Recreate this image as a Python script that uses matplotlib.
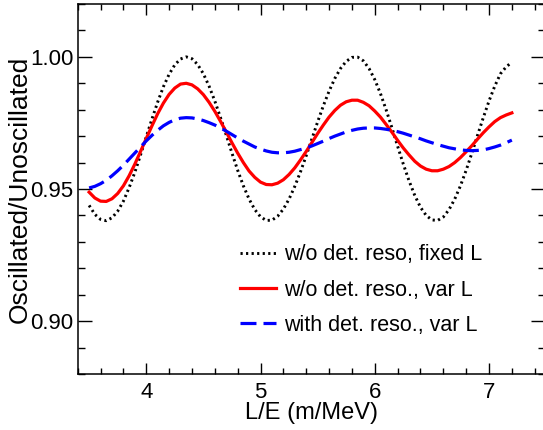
import matplotlib
matplotlib.use("Agg")
import matplotlib.pyplot as plt
from matplotlib.ticker import MultipleLocator

plt.rcParams['font.family'] = ['Liberation Sans', 'DejaVu Sans']

# L/E sample points (m/MeV)
le = [3.50, 3.55, 3.60, 3.65, 3.70, 3.75, 3.80, 3.85, 3.90, 3.95,
      4.00, 4.05, 4.10, 4.15, 4.20, 4.25, 4.30, 4.35, 4.40, 4.45,
      4.50, 4.55, 4.60, 4.65, 4.70, 4.75, 4.80, 4.85, 4.90, 4.95,
      5.00, 5.05, 5.10, 5.15, 5.20, 5.25, 5.30, 5.35, 5.40, 5.45,
      5.50, 5.55, 5.60, 5.65, 5.70, 5.75, 5.80, 5.85, 5.90, 5.95,
      6.00, 6.05, 6.10, 6.15, 6.20, 6.25, 6.30, 6.35, 6.40, 6.45,
      6.50, 6.55, 6.60, 6.65, 6.70, 6.75, 6.80, 6.85, 6.90, 6.95,
      7.00, 7.05, 7.10, 7.15, 7.20]

fixed_L = [0.9438, 0.9404, 0.9385, 0.9380, 0.9391, 0.9416, 0.9454, 0.9505, 0.9563, 0.9629,
           0.9697, 0.9765, 0.9829, 0.9887, 0.9934, 0.9970, 0.9992, 1.0000, 0.9993, 0.9971,
           0.9936, 0.9889, 0.9833, 0.9770, 0.9704, 0.9636, 0.9571, 0.9512, 0.9462, 0.9422,
           0.9395, 0.9381, 0.9382, 0.9397, 0.9424, 0.9462, 0.9510, 0.9565, 0.9626, 0.9690,
           0.9754, 0.9815, 0.9870, 0.9918, 0.9956, 0.9983, 0.9998, 0.9999, 0.9985, 0.9956,
           0.9914, 0.9861, 0.9799, 0.9732, 0.9662, 0.9594, 0.9531, 0.9476, 0.9431, 0.9400,
           0.9383, 0.9381, 0.9394, 0.9422, 0.9462, 0.9512, 0.9571, 0.9636, 0.9704, 0.9770,
           0.9833, 0.9889, 0.9936, 0.9962, 0.9980]

var_L = [0.9488, 0.9466, 0.9454, 0.9453, 0.9463, 0.9483, 0.9512, 0.9550, 0.9594, 0.9642,
         0.9691, 0.9739, 0.9785, 0.9825, 0.9858, 0.9882, 0.9897, 0.9900, 0.9894, 0.9879,
         0.9857, 0.9828, 0.9794, 0.9756, 0.9716, 0.9675, 0.9636, 0.9600, 0.9568, 0.9544,
         0.9526, 0.9517, 0.9516, 0.9522, 0.9535, 0.9555, 0.9580, 0.9610, 0.9642, 0.9676,
         0.9710, 0.9742, 0.9772, 0.9797, 0.9817, 0.9830, 0.9836, 0.9836, 0.9828, 0.9815,
         0.9795, 0.9772, 0.9744, 0.9715, 0.9684, 0.9655, 0.9629, 0.9605, 0.9587, 0.9575,
         0.9569, 0.9569, 0.9575, 0.9585, 0.9600, 0.9619, 0.9641, 0.9664, 0.9689, 0.9713,
         0.9735, 0.9755, 0.9770, 0.9780, 0.9788]

det_reso = [0.9504, 0.9510, 0.9520, 0.9533, 0.9550, 0.9569, 0.9590, 0.9613, 0.9636, 0.9659,
            0.9682, 0.9703, 0.9722, 0.9739, 0.9752, 0.9762, 0.9768, 0.9770, 0.9769, 0.9765,
            0.9759, 0.9751, 0.9742, 0.9731, 0.9719, 0.9706, 0.9693, 0.9681, 0.9670, 0.9659,
            0.9651, 0.9644, 0.9639, 0.9637, 0.9637, 0.9639, 0.9643, 0.9649, 0.9655, 0.9663,
            0.9672, 0.9681, 0.9691, 0.9700, 0.9708, 0.9716, 0.9722, 0.9727, 0.9730, 0.9731,
            0.9731, 0.9729, 0.9726, 0.9722, 0.9717, 0.9711, 0.9704, 0.9697, 0.9690, 0.9682,
            0.9675, 0.9668, 0.9662, 0.9656, 0.9652, 0.9648, 0.9646, 0.9645, 0.9646, 0.9648,
            0.9653, 0.9659, 0.9666, 0.9675, 0.9685]

labels = ["w/o det. reso, fixed L", "w/o det. reso., var L", "with det. reso., var L"]
x_ticks = [4, 5, 6, 7]
y_ticks = [0.90, 0.95, 1.00]
y_ticklabels = ["0.90", "0.95", "1.00"]

fig = plt.figure(figsize=(5.43, 4.30), dpi=100)
ax = fig.add_axes([77.7/543, 1 - 374/430, (545 - 77.7)/543, 370/430])

ax.plot(le, fixed_L, color='black', lw=2.1, linestyle=(0, (0.75, 1.15)), label=labels[0])
ax.plot(le, var_L, color='#ff0000', lw=2.3, label=labels[1])
ax.plot(le, det_reso, color='#0000ff', lw=2.3, linestyle=(0, (5.0, 2.2)), label=labels[2])

ax.set_xlim(3.4, 7.49)
ax.set_ylim(0.88, 1.02)
ax.set_xticks(x_ticks)
ax.set_xticklabels([str(t) for t in x_ticks])
ax.set_yticks(y_ticks)
ax.set_yticklabels(y_ticklabels)
ax.xaxis.set_minor_locator(MultipleLocator(0.2))
ax.yaxis.set_minor_locator(MultipleLocator(0.01))

ax.tick_params(axis='both', which='both', direction='in', top=True, right=True, width=1.0)
ax.tick_params(axis='x', which='major', length=8, pad=6, labelsize=16)
ax.tick_params(axis='x', which='minor', length=4)
ax.tick_params(axis='y', which='major', length=10, pad=3, labelsize=16)
ax.tick_params(axis='y', which='minor', length=5)
for s in ax.spines.values():
    s.set_linewidth(1.1)

ax.set_xlabel("L/E (m/MeV)", fontsize=17)
ax.xaxis.set_label_coords(0.5, -0.075)
ax.set_ylabel("Oscillated/Unoscillated", fontsize=19)
ax.yaxis.set_label_coords(-0.098, 0.5)

ax.legend(loc='upper left', bbox_to_anchor=(0.348, 0.351), frameon=False,
          fontsize=15.5, handlelength=1.67, handletextpad=0.37, labelspacing=0.67,
          borderpad=0, borderaxespad=0)

fig.savefig("out.png", dpi=100)
